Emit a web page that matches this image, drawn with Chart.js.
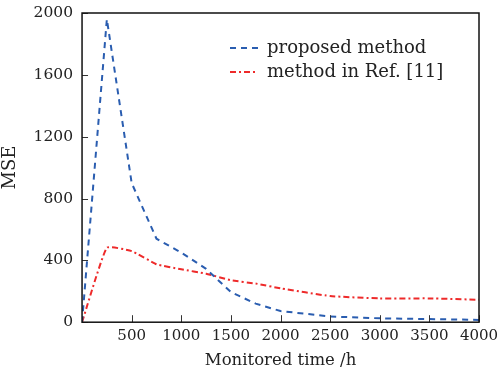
<!DOCTYPE html>
<html>
<head>
<meta charset="utf-8">
<script src="https://cdn.jsdelivr.net/npm/chart.js@4.4.0/dist/chart.umd.min.js"></script>
<style>
  html, body { margin: 0; padding: 0; background: #fff; }
  #wrap { width: 499px; height: 376px; }
</style>
</head>
<body>
<div id="wrap"><canvas id="myChart" width="499" height="376"></canvas></div>
<script>
// monitored time (h)
const times = [0, 250, 500, 750, 1000, 1250, 1500, 1750, 2000, 2500, 3000, 3500, 4000]
// MSE values
const proposedMse = [0, 1960, 900, 540, 450, 345, 195, 120, 72, 37, 25, 20, 15]
const refMse = [0, 482, 460, 375, 342, 314, 271, 250, 219, 169, 154, 154, 145]
const xTicks = [500, 1000, 1500, 2000, 2500, 3000, 3500, 4000]
const yTicks = [0, 400, 800, 1200, 1600, 2000]
const seriesNames = ['proposed method', 'method in Ref. [11]']

const serif = 'DejaVu Serif'

function toPoints(ys) {
    return times.map((t, i) => ({ x: t, y: ys[i] }))
}

// draw small inward tick marks and move the legend inside the plot
const plotExtras = {
    id: 'plotExtras',
    afterLayout(chart) {
        const lg = chart.legend
        const w = lg.width, h = lg.height
        lg.left = 224; lg.top = 33
        lg.right = lg.left + w; lg.bottom = lg.top + h
    },
    afterDraw(chart) {
        const ctx = chart.ctx
        const xs = chart.scales.x, ys = chart.scales.y
        const area = chart.chartArea
        ctx.save()
        ctx.strokeStyle = '#333'
        ctx.lineWidth = 1
        ctx.beginPath()
        xTicks.forEach(v => {
            const px = Math.round(xs.getPixelForValue(v)) + 0.5
            ctx.moveTo(px, area.bottom)
            ctx.lineTo(px, area.bottom - 7)
        })
        yTicks.forEach(v => {
            const py = Math.round(ys.getPixelForValue(v)) + 0.5
            ctx.moveTo(area.left, py)
            ctx.lineTo(area.left + 6, py)
        })
        ctx.stroke()
        ctx.lineWidth = 1.5
        ctx.strokeStyle = '#111'
        ctx.strokeRect(area.left, area.top, area.right - area.left, area.bottom - area.top)
        ctx.restore()
    }
}

const ctx = document.getElementById('myChart')

const myChart = new Chart(ctx, {
    type: 'line',
    plugins: [plotExtras],
    data: {
        datasets: [{
            label: seriesNames[0],
            data: toPoints(proposedMse),
            borderColor: '#2a5db0',
            borderWidth: 2,
            borderDash: [6, 5],
            pointRadius: 0,
            tension: 0,
            fill: false
        }, {
            label: seriesNames[1],
            data: toPoints(refMse),
            borderColor: '#ee2a2a',
            borderWidth: 2,
            borderDash: [6, 3, 2, 3],
            pointRadius: 0,
            tension: 0.12,
            fill: false
        }]
    },
    options: {
        responsive: false,
        animation: false,
        layout: { padding: { top: 13, right: 20, left: 0, bottom: 5 } },
        plugins: {
            legend: {
                position: 'chartArea',
                align: 'start',
                labels: {
                    usePointStyle: true,
                    pointStyle: 'line',
                    pointStyleWidth: 28,
                    boxHeight: 2,
                    padding: 6,
                    color: '#222',
                    font: { family: serif, size: 18 },
                    // point-style legend items lose the dash, put it back
                    generateLabels: chart => Chart.defaults.plugins.legend.labels.generateLabels(chart).map((item, i) => {
                        const ds = chart.data.datasets[i]
                        item.lineDash = ds.borderDash
                        item.strokeStyle = ds.borderColor
                        item.lineWidth = 2
                        return item
                    })
                }
            },
            tooltip: { enabled: false }
        },
        scales: {
            x: {
                type: 'linear',
                min: 0,
                max: 4000,
                afterBuildTicks: s => { s.ticks = [0].concat(xTicks).map(v => ({ value: v })) },
                afterFit: s => { s.paddingLeft = 0; s.paddingRight = 0 },
                grid: { display: false, drawTicks: false },
                border: { display: false },
                ticks: {
                    padding: 5,
                    color: '#222',
                    font: { family: serif, size: 15 },
                    maxRotation: 0,
                    callback: v => v === 0 ? '' : String(v)
                },
                title: {
                    display: true,
                    text: 'Monitored time /h',
                    color: '#222',
                    padding: { top: 1, bottom: 0 },
                    font: { family: serif, size: 16.5 }
                }
            },
            y: {
                min: 0,
                max: 2000,
                afterBuildTicks: s => { s.ticks = yTicks.map(v => ({ value: v })) },
                afterFit: s => { s.paddingTop = 0; s.paddingBottom = 0 },
                grid: { display: false, drawTicks: false },
                border: { display: false },
                ticks: {
                    padding: 9,
                    color: '#222',
                    font: { family: serif, size: 15.5 },
                    callback: v => String(v)
                },
                title: {
                    display: true,
                    text: 'MSE',
                    color: '#222',
                    padding: { top: 0, bottom: 3 },
                    font: { family: serif, size: 18 }
                }
            }
        }
    }
})
</script>
</body>
</html>
